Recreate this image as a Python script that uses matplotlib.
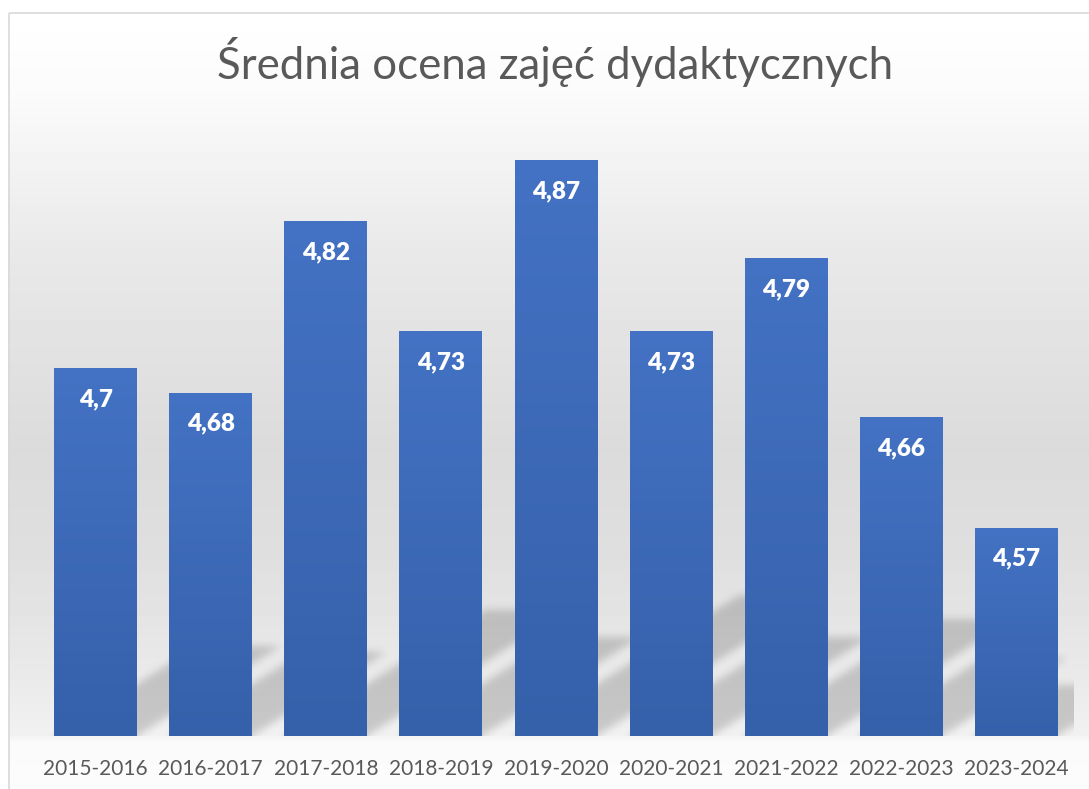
import numpy as np
import matplotlib
matplotlib.use('Agg')
import matplotlib.pyplot as plt
from matplotlib.colors import LinearSegmentedColormap
from matplotlib.patches import Rectangle

# ---------------- data ----------------
categories = ['2015-2016', '2016-2017', '2017-2018', '2018-2019', '2019-2020',
              '2020-2021', '2021-2022', '2022-2023', '2023-2024']
values = [4.70, 4.68, 4.82, 4.73, 4.87, 4.73, 4.79, 4.66, 4.57]
value_labels = ['4,7', '4,68', '4,82', '4,73', '4,87', '4,73', '4,79', '4,66', '4,57']
title = 'Średnia ocena zajęć dydaktycznych'
y_min, y_max = 4.4, 4.9

# ---------------- figure ----------------
W, H = 1089, 789
fig = plt.figure(figsize=(W / 100, H / 100), dpi=100)
fig.patch.set_facecolor('white')

# background gradient (chart area)
bg = fig.add_axes([0, 0, 1, 1], zorder=0)
bg.set_axis_off()
stops_y = [0, 12, 90, 250, 450, 560, 680, 735, 742, 789]
stops_v = [255, 255, 251, 233, 219, 223, 234, 241, 250, 252]
rows = np.arange(H) + 0.5
col = np.interp(rows, stops_y, stops_v) / 255.0
img = np.ones((H, W))
img[:, 8:] = col[:, None]
bg.imshow(img, cmap='gray', vmin=0, vmax=1, extent=(0, W, H, 0), aspect='auto',
          interpolation='bilinear')
bg.set_xlim(0, W)
bg.set_ylim(H, 0)
bg.add_patch(Rectangle((8.5, 12.5), W + 10, H + 10, fill=False,
                       edgecolor='#d9d9d9', lw=1.2))

# main axes
L, R, T, B = 38, 1074, 123, 736
ax = fig.add_axes([L / W, 1 - B / H, (R - L) / W, (B - T) / H], zorder=1)
ax.patch.set_alpha(0)
for sp in ax.spines.values():
    sp.set_visible(False)

x = np.arange(len(categories))
ax.set_xlim(-0.5, len(categories) - 0.5)
ax.set_ylim(y_min, y_max)

bar_w = 0.72
bars = ax.bar(x, np.array(values) - y_min, bottom=y_min, width=bar_w,
              color='#3c67b5', zorder=3)

# per-bar vertical gradient
bar_cmap = LinearSegmentedColormap.from_list('b', ['#3560aa', '#4472c4'])
grad = np.linspace(0, 1, 256)[::-1].reshape(-1, 1)
for rect in bars:
    x0 = rect.get_x()
    x1 = x0 + rect.get_width()
    y0 = rect.get_y()
    y1 = y0 + rect.get_height()
    im = ax.imshow(grad, cmap=bar_cmap, extent=(x0, x1, y0, y1), aspect='auto',
                   zorder=3.5, interpolation='bilinear')
    im.set_clip_path(rect)

ax.set_xlim(-0.5, len(categories) - 0.5)
ax.set_ylim(y_min, y_max)

# perspective shadows (floor), blurred
fig.canvas.draw()
p0 = ax.transData.transform((0, y_min))
p1 = ax.transData.transform((1, y_min + 1))
pxc = p1[0] - p0[0]          # pixels per category
pyv = p1[1] - p0[1]          # pixels per value unit
nx = int(round(R - L))
ny = int(round(B - T))
xs = np.linspace(-0.5, len(categories) - 0.5, nx)
ys = np.linspace(y_max, y_min, ny)
tpx = ((ys - y_min) * pyv)[:, None]
X = xs[None, :]
skew, kh = 1.6, 0.245
mask = np.zeros((ny, nx))
for xi, v in zip(x, values):
    hpx = kh * (v - y_min) * pyv
    shift = skew * tpx / pxc
    cond = (tpx >= 0) & (tpx <= hpx) & (X >= xi - bar_w / 2 + shift) & (X <= xi + bar_w / 2 + shift)
    mask = np.maximum(mask, cond.astype(float))

def blur(a, sigma):
    r = int(3 * sigma)
    k = np.exp(-0.5 * (np.arange(-r, r + 1) / sigma) ** 2)
    k /= k.sum()
    a = np.pad(a, ((r, r), (r, r)), mode='edge')
    a = np.apply_along_axis(lambda m: np.convolve(m, k, mode='same'), 0, a)
    a = np.apply_along_axis(lambda m: np.convolve(m, k, mode='same'), 1, a)
    return a[r:-r, r:-r]

mask = blur(mask, 4.0)
shadow = np.zeros((ny, nx, 4))
shadow[..., 3] = 0.17 * mask
ax.imshow(shadow, extent=(-0.5, len(categories) - 0.5, y_min, y_max), aspect='auto',
          zorder=2, interpolation='bilinear')
ax.set_xlim(-0.5, len(categories) - 0.5)
ax.set_ylim(y_min, y_max)

# data labels
for xi, v, lbl in zip(x, values, value_labels):
    ax.annotate(lbl, (xi, v), xytext=(0, -27.4), textcoords='offset points',
                ha='center', va='baseline', color='white', fontsize=17.5,
                fontweight='heavy', family='Lato', zorder=5)

# axes ticks
ax.set_yticks([])
ax.set_xticks(x, categories)
ax.tick_params(axis='x', length=0, pad=16.5, labelsize=15, labelcolor='#595959')
for t in ax.get_xticklabels():
    t.set_family('Lato')

# title
fig.text(555.5 / W, 1 - 79 / H, title, ha='center', va='baseline', fontsize=31.5,
         color='#595959', family='Lato')

fig.savefig('out.png', dpi=100)
